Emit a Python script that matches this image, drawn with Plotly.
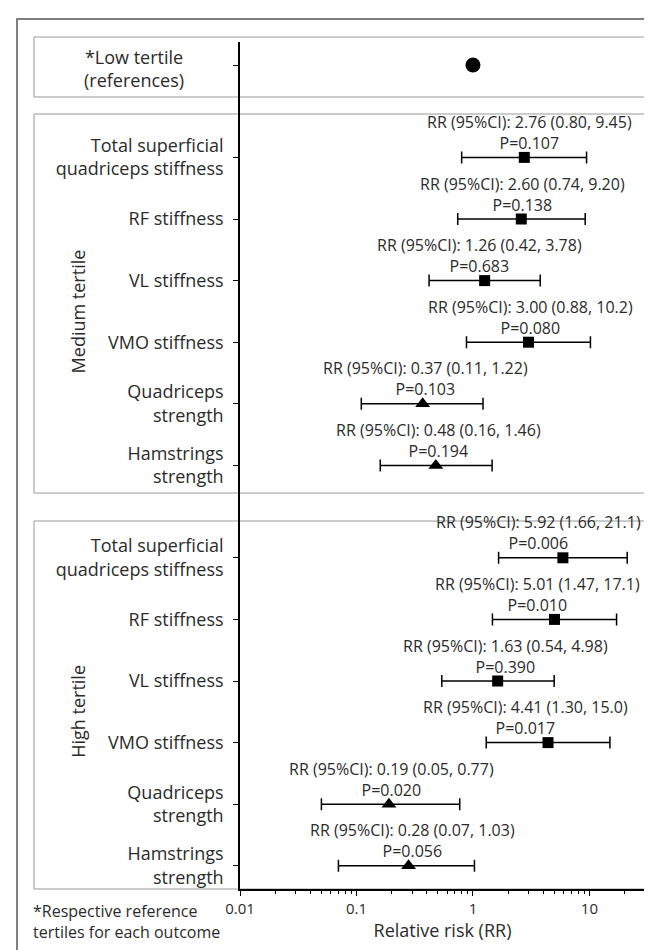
import numpy as np
import plotly.graph_objects as go

# ---------------- data ----------------
outcomes = ["Total superficial<br>quadriceps stiffness", "RF stiffness", "VL stiffness",
            "VMO stiffness", "Quadriceps<br>strength", "Hamstrings<br>strength"]
marker_kind = ["square", "square", "square", "square", "triangle-up", "triangle-up"]

medium_rr = [2.76, 2.60, 1.26, 3.00, 0.37, 0.48]
medium_lo = [0.80, 0.74, 0.42, 0.88, 0.11, 0.16]
medium_hi = [9.45, 9.20, 3.78, 10.2, 1.22, 1.46]
medium_p = [0.107, 0.138, 0.683, 0.080, 0.103, 0.194]

high_rr = [5.92, 5.01, 1.63, 4.41, 0.19, 0.28]
high_lo = [1.66, 1.47, 0.54, 1.30, 0.05, 0.07]
high_hi = [21.1, 17.1, 4.98, 15.0, 0.77, 1.03]
high_p = [0.006, 0.010, 0.390, 0.017, 0.020, 0.056]

reference_rr = 1.0
x_tickvals = [0.01, 0.1, 1, 10]
x_ticktext = ["0.01", "0.1", "1", "10"]

# label horizontal nudges (style, px)
shift_medium = [5, 1, -5, 2, 3, 3]
shift_high = [-24, -17, 8, -23, 3, 4]

# ---------------- layout geometry ----------------
W, H = 652, 950
L, R, T, B = 232, 15, 34, 69
PW, PH = W - L - R, H - T - B
FONT = "Open Sans"
TXT = "#2b2b2b"


def px_x(px):
    return (px - L) / PW


def px_y(py):
    return (H - B - py) / PH


ref_y = 0.0
medium_y = [1.5 + i for i in range(len(outcomes))]
high_y = [8.0 + i for i in range(len(outcomes))]
row_px = 61.6
y_top = (T - 57) / row_px
y_bot = (H - B - 57) / row_px


def fmt(v):
    return f"{v:.1f}" if v >= 10 else f"{v:.2f}"


fig = go.Figure()

# reference
fig.add_trace(go.Scatter(x=[reference_rr], y=[ref_y], mode="markers",
                         marker=dict(symbol="circle", size=15, color="black"),
                         showlegend=False, hoverinfo="skip"))

annotations = []
for ys, rr, lo, hi, pv, sh in [(medium_y, medium_rr, medium_lo, medium_hi, medium_p, shift_medium),
                               (high_y, high_rr, high_lo, high_hi, high_p, shift_high)]:
    for i in range(len(outcomes)):
        fig.add_trace(go.Scatter(
            x=[rr[i]], y=[ys[i]], mode="markers",
            marker=dict(symbol=marker_kind[i], size=11 if marker_kind[i] == "square" else 13, color="black"),
            error_x=dict(type="data", symmetric=False, array=[hi[i] - rr[i]], arrayminus=[rr[i] - lo[i]],
                         color="black", thickness=1.5, width=6),
            showlegend=False, hoverinfo="skip"))
        annotations.append(dict(x=np.log10(rr[i]), y=ys[i], xref="x", yref="y",
                                text=f"RR (95%CI): {fmt(rr[i])} ({fmt(lo[i])}, {fmt(hi[i])})<br>P={pv[i]:.3f}",
                                showarrow=False, xshift=sh[i], yshift=25, xanchor="center", yanchor="middle",
                                align="center", font=dict(family=FONT, size=16, color=TXT)))

# group labels
annotations.append(dict(x=px_x(126), y=ref_y, xref="paper", yref="y", xanchor="center", yanchor="middle",
                        text="*Low tertile<br>(references)", showarrow=False, yshift=-3, align="center",
                        font=dict(family=FONT, size=18, color=TXT)))
annotations.append(dict(x=px_x(70), y=float(np.mean(medium_y)), xref="paper", yref="y",
                        xanchor="center", yanchor="middle",
                        text="Medium tertile", textangle=-90, showarrow=False,
                        font=dict(family=FONT, size=18, color=TXT)))
annotations.append(dict(x=px_x(70), y=float(np.mean(high_y)), xref="paper", yref="y",
                        xanchor="center", yanchor="middle",
                        text="High tertile", textangle=-90, showarrow=False,
                        font=dict(family=FONT, size=18, color=TXT)))
annotations.append(dict(x=px_x(23), y=px_y(913), xref="paper", yref="paper",
                        text="*Respective reference<br>tertiles for each outcome", showarrow=False,
                        xanchor="left", yanchor="middle", align="left",
                        font=dict(family=FONT, size=16, color=TXT)))

shapes = [
    # outer frame
    dict(type="rect", xref="paper", yref="paper", x0=px_x(9), x1=px_x(720), y0=px_y(1020), y1=px_y(11),
         line=dict(color="#555555", width=1.5), layer="below"),
    # group boxes
    dict(type="rect", xref="paper", yref="paper", x0=px_x(26), x1=px_x(641), y0=px_y(89), y1=px_y(29),
         line=dict(color="#999999", width=1), layer="below"),
    dict(type="rect", xref="paper", yref="paper", x0=px_x(26), x1=px_x(641), y0=px_y(485), y1=px_y(106),
         line=dict(color="#999999", width=1), layer="below"),
    dict(type="rect", xref="paper", yref="paper", x0=px_x(26), x1=px_x(641), y0=px_y(881), y1=px_y(513),
         line=dict(color="#999999", width=1), layer="below"),
    # reference line at RR = 1
    dict(type="line", xref="x", yref="paper", x0=np.log10(reference_rr), x1=np.log10(reference_rr), y0=0, y1=1,
         line=dict(color="#444444", width=1.2, dash="dot"), layer="below"),
]

minor_vals = [m * 10.0 ** d for d in range(-2, 2) for m in range(2, 10) if m * 10.0 ** d <= 30]

fig.update_layout(
    width=W, height=H,
    margin=dict(l=L, r=R, t=T, b=B, autoexpand=False),
    paper_bgcolor="white", plot_bgcolor="rgba(0,0,0,0)",
    font=dict(family=FONT, color=TXT),
    shapes=shapes, annotations=annotations,
    xaxis=dict(type="log", range=[-2, np.log10(30)], showgrid=False, zeroline=False,
               showline=True, linecolor="black", linewidth=1.5,
               tickvals=x_tickvals, ticktext=x_ticktext, ticks="outside", ticklen=5, tickwidth=1.2,
               tickcolor="black", tickfont=dict(size=15, color=TXT),
               minor=dict(tickvals=minor_vals, ticks="outside", ticklen=3, tickwidth=1, tickcolor="black",
                          showgrid=False),
               title=dict(text="Relative risk (RR)", font=dict(size=18, color=TXT), standoff=8),
               automargin=False),
    yaxis=dict(range=[y_bot, y_top], showgrid=False, zeroline=False,
               showline=True, linecolor="black", linewidth=1.5,
               tickvals=[ref_y] + medium_y + high_y, ticktext=[""] + outcomes + outcomes,
               ticks="outside", ticklen=5, tickwidth=1.2, tickcolor="black",
               tickfont=dict(size=18, color=TXT), ticklabelstandoff=6, automargin=False),
)

fig.write_html("out.html")
